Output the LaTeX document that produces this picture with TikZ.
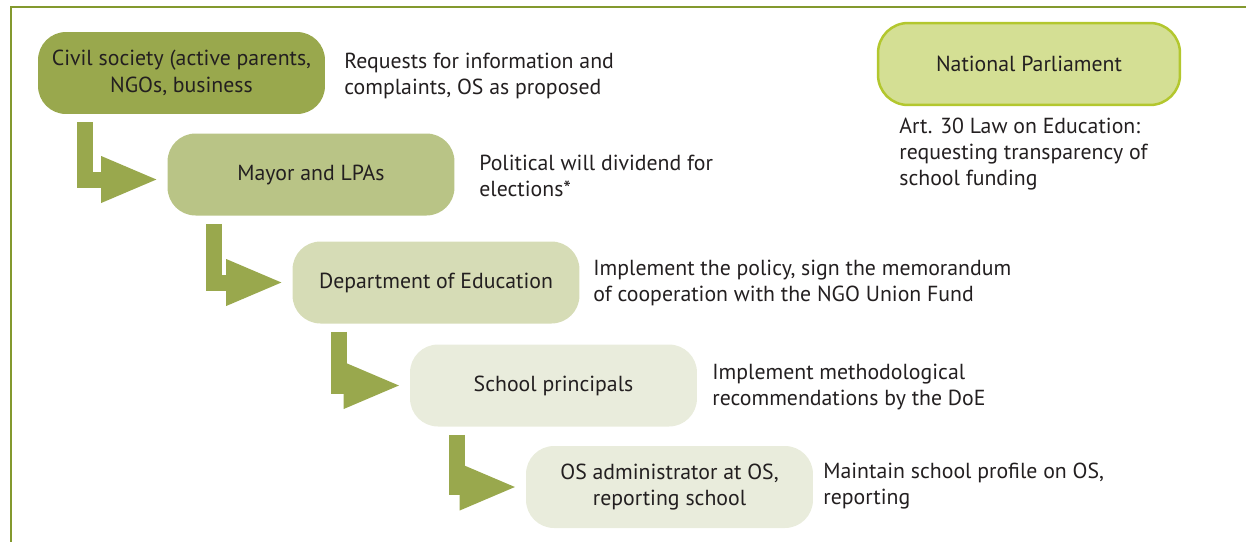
\documentclass[tikz,border=0pt]{standalone}
\usepackage{fontspec}
\setmainfont{PT Sans}
\usepackage{tikz}
\usetikzlibrary{arrows.meta}

\definecolor{frameline}{HTML}{83992E}
\definecolor{levelone}{HTML}{99A84D}
\definecolor{leveltwo}{HTML}{B9C486}
\definecolor{levelthree}{HTML}{D6DCB6}
\definecolor{levelfour}{HTML}{E9ECDC}
\definecolor{parlfill}{HTML}{D4DF94}
\definecolor{parlline}{HTML}{B3C72E}
\definecolor{inkgray}{HTML}{231F20}

\tikzset{
  actor/.style={rectangle, rounded corners=0.56cm, minimum width=5.74cm,
    minimum height=1.64cm, align=center, inner sep=0pt},
  note/.style={anchor=west, align=left, inner sep=0pt},
  flow/.style={draw=levelone, line width=0.32cm, line join=miter,
    -{Triangle[length=1.16cm,width=0.84cm]}, shorten >=0.16cm}
}

\begin{document}
\begin{tikzpicture}[x=0.02cm, y=-0.02cm,
  every node/.style={text=inkgray, font=\fontsize{12.4pt}{15pt}\selectfont}]

\useasboundingbox (0,0) rectangle (1246,542);

% Frame
\draw[frameline, line width=0.05cm] (1246,7) -| (11,542);

% Nodes
\node[actor, fill=levelone] (civil) at (181.5,73)
{Civil society (active parents,\\ NGOs, business};

\node[actor, fill=leveltwo] (mayor) at (311,174.5)
{Mayor and LPAs};

\node[actor, fill=levelthree] (dept) at (436,282.5)
{Department of Education};

\node[actor, fill=levelfour] (school) at (553.5,385.5)
{School principals};

\node[actor, fill=levelfour] (osadmin) at (669.5,487)
{OS administrator at OS,\\ reporting school};

\node[actor, fill=parlfill, draw=parlline, line width=0.05cm,
  minimum width=6.04cm, rounded corners=0.6cm] (parliament) at (1029,64)
{National Parliament};

% Arrows between boxes
\draw[flow] ([xshift=0.94cm,yshift=-0.16cm]civil.south west) |- ([yshift=-0.1cm]mayor.west);
\draw[flow] ([xshift=0.94cm,yshift=-0.16cm]mayor.south west) |- (dept.west);
\draw[flow] ([xshift=0.94cm,yshift=-0.16cm]dept.south west) |- (school.west);
\draw[flow] ([xshift=0.94cm,yshift=-0.16cm]school.south west) |- (osadmin.west);

% Labels
\node[note] (civilnote) at (344,76)
{Requests for information and\\ complaints, OS as proposed};
\node[note] (mayornote) at (479,176)
{Political will dividend for\\ elections*};
\node[note] (deptnote) at (593,283)
{Implement the policy, sign the memorandum\\ of cooperation with the NGO Union Fund};
\node[note] (schoolnote) at (712,387)
{Implement methodological\\ recommendations by the DoE};
\node[note] (osnote) at (823,486)
{Maintain school profile on OS,\\ reporting};
\node[note] (parlnote) at (899,154)
{Art. 30 Law on Education:\\ requesting transparency of\\ school funding};

\end{tikzpicture}
\end{document}
